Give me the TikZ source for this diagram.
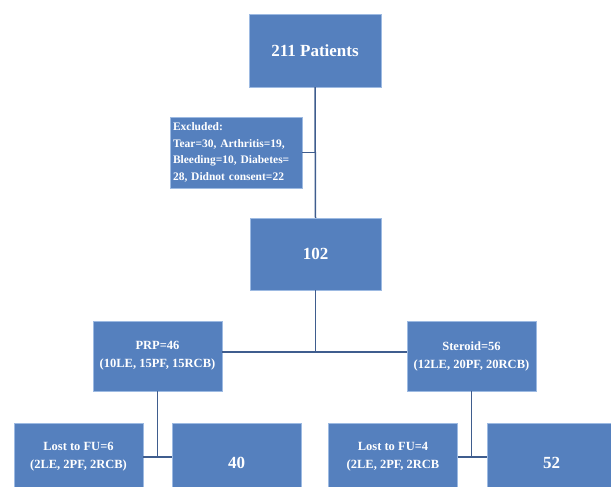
\documentclass[tikz,border=0pt]{standalone}
\usepackage{fontspec}
\setmainfont{Liberation Serif}
\usetikzlibrary{positioning, calc}
\definecolor{box-blue}{HTML}{5580BE}
\definecolor{box-edge}{HTML}{9DBAE2}
\definecolor{line-blue}{HTML}{3F5D8E}

\begin{document}
\begin{tikzpicture}[x=1pt, y=-1pt,
    blk/.style={draw=box-edge, fill=box-blue, text=white, align=center,
                inner sep=3pt, minimum width=129pt, minimum height=70pt,
                font=\bfseries\fontsize{12.5}{18}\selectfont},
    bignum/.style={font=\bfseries\fontsize{17}{19}\selectfont},
    lnk/.style={draw=line-blue, line width=1.5pt}]
  \useasboundingbox (0,0) rectangle (611,487);
  \clip (0,0) rectangle (611,487);

  % top of the flow
  \node[blk, bignum, minimum width=132pt, minimum height=73pt] (total) at (315,50.5) {211 Patients};
  \node[blk, minimum width=132pt, minimum height=71pt, align=left, text width=126pt,
        font=\bfseries\fontsize{11.5}{16.5}\selectfont] (excl) at (236,152.5)
        {Excluded:\\Tear=30, Arthritis=19,\\Bleeding=10, Diabetes=\\28, Didnot consent=22};
  \node[blk, bignum, minimum width=131pt, minimum height=72pt] (enrolled) at (315.5,254) {102};

  % the two arms
  \node[blk] (prp) at (157.5,356) {PRP=46\\(10LE, 15PF, 15RCB)};
  \node[blk] (steroid) at (471.5,356) {Steroid=56\\(12LE, 20PF, 20RCB)};

  % follow up
  \node[blk, minimum height=68pt] (lostprp) at (78.5,457) {Lost to FU=6\\(2LE, 2PF, 2RCB)};
  \node[blk, bignum, minimum height=80pt] (doneprp) at (236.5,463) {40};
  \node[blk, minimum height=68pt] (loststeroid) at (393,457) {Lost to FU=4\\(2LE, 2PF, 2RCB};
  \node[blk, bignum, minimum height=80pt] (donesteroid) at (551.5,463) {52};

  \coordinate (split) at (315.5,352);
  \coordinate (prpT) at (157.5,457);
  \coordinate (steroidT) at (471.5,457);

  \draw[lnk] (total.south) -- (enrolled.north);
  \draw[lnk] (excl.east) -- (excl.east -| total.south);
  \draw[lnk] (enrolled.south) -- (split);
  \draw[lnk] (split -| prp.east) -- (split -| steroid.west);
  \draw[lnk] (prp.south) -- (prpT);
  \draw[lnk] (prpT -| lostprp.east) -- (prpT -| doneprp.west);
  \draw[lnk] (steroid.south) -- (steroidT);
  \draw[lnk] (steroidT -| loststeroid.east) -- (steroidT -| donesteroid.west);
\end{tikzpicture}
\end{document}
